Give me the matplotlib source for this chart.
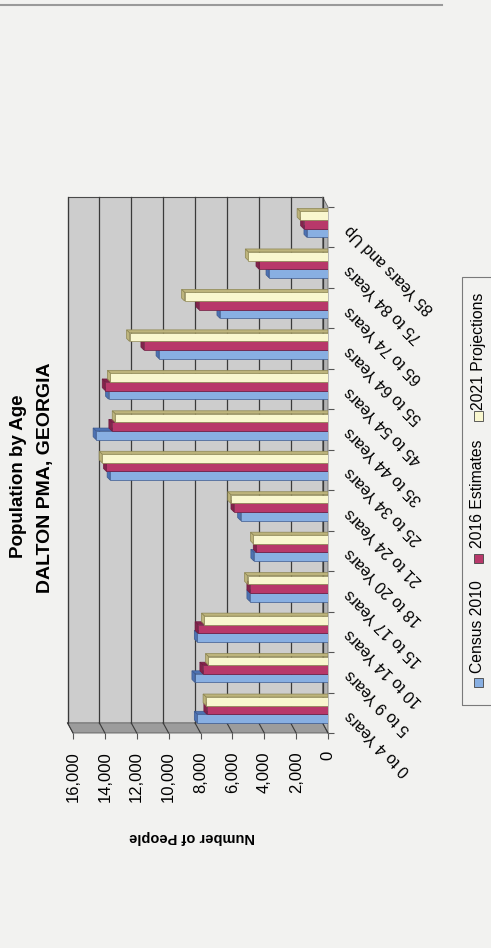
import numpy as np
import matplotlib
matplotlib.use("Agg")
import matplotlib.pyplot as plt
from matplotlib.patches import Polygon, Rectangle
from matplotlib.lines import Line2D

plt.rcParams['font.family'] = ['Liberation Sans', 'DejaVu Sans']

ages = ["0 to 4 Years", "5 to 9 Years", "10 to 14 Years", "15 to 17 Years",
        "18 to 20 Years", "21 to 24 Years", "25 to 34 Years", "35 to 44 Years",
        "45 to 54 Years", "55 to 64 Years", "65 to 74 Years", "75 to 84 Years",
        "85 Years and Up"]
census_2010 = [8200, 8350, 8200, 4900, 4650, 5480, 13670, 14550, 13770, 10600, 6780, 3700, 1320]
est_2016 = [7600, 7850, 8150, 4900, 4500, 5900, 13900, 13560, 13980, 11550, 8100, 4330, 1530]
proj_2021 = [7650, 7500, 7750, 5050, 4680, 6100, 14170, 13350, 13650, 12450, 9000, 5000, 1750]
series_names = ["Census 2010", "2016 Estimates", "2021 Projections"]
value_ticks = list(range(0, 16001, 2000))

faces = ['#88afe2', '#b8386a', '#f9f7cf']
sides = ['#4d72b3', '#84234c', '#bdb47c']
edges = ['#3d5a8f', '#6e1c40', '#8d8652']

W, H = 491, 948
fig = plt.figure(figsize=(W / 100, H / 100), dpi=100)
fig.patch.set_facecolor('#f2f2f0')

# front plane of the 3-D box: value axis runs right-to-left
ax = fig.add_axes([73 / W, (H - 733) / H, 255 / W, 526 / H])
ax.set_xlim(16000, 0)
ax.set_ylim(0, 13)
ax.patch.set_visible(False)
for sp in ax.spines.values():
    sp.set_visible(False)

# depth of the box in data units (about 5.5 px left, 10 px up)
offx, offy = 345, 0.25
ax.add_patch(Rectangle((offx, offy), 16000, 13, facecolor='#cdcdcd',
                       edgecolor='#4a4a4a', lw=0.8, clip_on=False, zorder=0))
ax.add_patch(Polygon([(0, 0), (16000, 0), (16000 + offx, offy), (offx, offy)],
                     closed=True, facecolor='#9c9c9c', edgecolor='#5a5a5a',
                     lw=0.6, clip_on=False, zorder=0.5))
ax.add_patch(Polygon([(0, 0), (offx, offy), (offx, 13 + offy), (0, 13)],
                     closed=True, facecolor='#b3b3b3', edgecolor='#6a6a6a',
                     lw=0.6, clip_on=False, zorder=0.5))
for v in value_ticks:
    ax.plot([v + offx, v + offx], [offy, 13 + offy], color='#3a3a3a', lw=0.9,
            clip_on=False, zorder=1)
    ax.plot([v + offx, v], [offy, 0], color='#3a3a3a', lw=0.8,
            clip_on=False, zorder=1)

# clustered bars with a small bevel on top and at the end
bh = 0.213
ddx, ddy = 188, 0.074
for s, vals in enumerate([census_2010, est_2016, proj_2021]):
    ypos = np.arange(len(ages)) + 0.25 + s * bh
    for y, v in zip(ypos, vals):
        yt = y + bh
        ax.add_patch(Polygon([(0, yt), (v, yt), (v + ddx, yt + ddy), (0, yt + ddy)],
                             closed=True, facecolor=sides[s], edgecolor=edges[s],
                             lw=0.5, zorder=2.9 + s))
        ax.add_patch(Polygon([(v, y), (v, yt), (v + ddx, yt + ddy), (v + ddx, y + ddy)],
                             closed=True, facecolor=sides[s], edgecolor=edges[s],
                             lw=0.5, zorder=2.9 + s))
    ax.barh(ypos, vals, height=bh, left=0, align='edge', color=faces[s],
            edgecolor=edges[s], lw=0.5, zorder=3 + s)

ax.set_xticks(value_ticks)
ax.set_xticklabels([f"{v:,}" for v in value_ticks], rotation=90, fontsize=12)
ax.tick_params(axis='x', length=4, width=0.8, color='#555', pad=9)

ax.set_yticks(np.arange(14))
ax.set_yticklabels([])
ax.set_yticks(np.arange(13) + 0.5, minor=True)
ax.set_yticklabels(ages, minor=True, fontsize=11.5)
ax.tick_params(axis='y', which='both', left=False, labelleft=False,
               right=True, labelright=True)
ax.tick_params(axis='y', which='major', length=4, width=0.8, color='#555')
ax.tick_params(axis='y', which='minor', length=0, pad=14)
for lab in ax.get_yticklabels(minor=True):
    lab.set_rotation(135)
    lab.set_rotation_mode('anchor')
    lab.set_ha('right')
    lab.set_va('center')

fig.text(19 / W, 1 - 476 / H, "Population by Age", rotation=90, fontsize=13.5,
         weight='bold', ha='center', va='center')
fig.text(46 / W, 1 - 478 / H, "DALTON PMA, GEORGIA", rotation=90, fontsize=14,
         weight='bold', ha='center', va='center')
fig.text(192 / W, 1 - 837 / H, "Number of People", rotation=180, fontsize=10.5,
         weight='bold', ha='center', va='center')

# legend box, partly running off the right edge
fig.add_artist(Rectangle((462 / W, 1 - 705 / H), 40 / W, 428 / H,
                         transform=fig.transFigure, fill=False,
                         edgecolor='#7a7a7a', lw=0.8))
leg_sq = [682, 558, 416]
leg_txt = [673, 548, 410]
for s, name in enumerate(series_names):
    fig.add_artist(Rectangle((474 / W, 1 - (leg_sq[s] + 4.5) / H), 8.5 / W, 9 / H,
                             transform=fig.transFigure, facecolor=faces[s],
                             edgecolor='#444', lw=0.6))
    fig.text(478 / W, 1 - leg_txt[s] / H, name, rotation=90, fontsize=11.3,
             ha='center', va='bottom')

fig.add_artist(Line2D([0, 0.9], [1 - 4.5 / H] * 2, transform=fig.transFigure,
                      color='#9a9a9a', lw=1.5))

fig.savefig("out.png", dpi=100, facecolor=fig.get_facecolor())
